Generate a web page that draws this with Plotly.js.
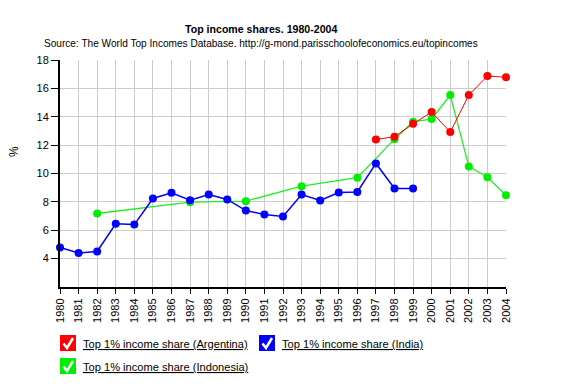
<!DOCTYPE html>
<html>
<head>
<meta charset="utf-8">
<script src="https://cdn.plot.ly/plotly-3.0.1.min.js"></script>
<style>html,body{margin:0;padding:0;background:#fff;}#chart{width:565px;height:390px;}</style>
</head>
<body>
<div id="chart"></div>
<script>
var argYears = [1997, 1998, 1999, 2000, 2001, 2002, 2003, 2004];
var argValues = [12.40, 12.59, 13.50, 14.33, 12.92, 15.53, 16.87, 16.78];

var indYears = [1980, 1981, 1982, 1983, 1984, 1985, 1986, 1987, 1988, 1989, 1990, 1991, 1992, 1993, 1994, 1995, 1996, 1997, 1998, 1999];
var indValues = [4.78, 4.40, 4.50, 6.45, 6.40, 8.24, 8.64, 8.12, 8.52, 8.17, 7.39, 7.11, 6.97, 8.52, 8.10, 8.66, 8.70, 10.71, 8.94, 8.94];

var idnYears = [1982, 1987, 1990, 1993, 1996, 1998, 1999, 2000, 2001, 2002, 2003, 2004];
var idnValues = [7.18, 7.98, 8.05, 9.11, 9.70, 12.42, 13.65, 13.84, 15.53, 10.50, 9.74, 8.47];

var seriesNames = ['Top 1% income share (Argentina)', 'Top 1% income share (India)', 'Top 1% income share (Indonesia)'];
var seriesColors = ['#ff0000', '#0000ff', '#00ee00'];

var yTicks = [4, 6, 8, 10, 12, 14, 16, 18];
var xTicks = [];
for (var yr = 1980; yr <= 2004; yr++) xTicks.push(yr);

var W = 565, H = 390;
var M = {l: 60, r: 59, t: 60, b: 103};
var pw = W - M.l - M.r, ph = H - M.t - M.b;
function px(x) { return (x - M.l) / pw; }
function py(y) { return (H - M.b - y) / ph; }

function tr(x, y, name, color, lw) {
  return {
    x: x, y: y, name: name, type: 'scatter', mode: 'lines+markers',
    line: {color: color, width: lw},
    marker: {color: color, size: 8},
    cliponaxis: false, showlegend: false
  };
}

var data = [
  tr(idnYears, idnValues, seriesNames[2], '#22ee22', 1.3),
  tr(indYears, indValues, seriesNames[1], seriesColors[1], 1.5),
  tr(argYears, argValues, seriesNames[0], seriesColors[0], 1)
];
data[0].marker.color = seriesColors[2];

var shapes = [];
var annotations = [];

annotations.push({xref: 'paper', yref: 'paper', x: px(261), y: py(29), text: '<b>Top income shares. 1980-2004</b>',
  showarrow: false, font: {family: 'Liberation Sans, Arial, sans-serif', size: 10.6, color: '#000'}, xanchor: 'center', yanchor: 'middle'});
annotations.push({xref: 'paper', yref: 'paper', x: px(261), y: py(44), text: 'Source: The World Top Incomes Database. http://g-mond.parisschoolofeconomics.eu/topincomes',
  showarrow: false, font: {family: 'Liberation Sans, Arial, sans-serif', size: 10.1, color: '#000'}, xanchor: 'center', yanchor: 'middle'});
annotations.push({xref: 'paper', yref: 'paper', x: px(14), y: py(152), text: '%', textangle: -90,
  showarrow: false, font: {family: 'Liberation Sans, Arial, sans-serif', size: 12, color: '#000'}, xanchor: 'center', yanchor: 'middle'});

var legendPos = [[60, 335], [259, 335], [60, 358]];
for (var i = 0; i < 3; i++) {
  var bx = legendPos[i][0], by = legendPos[i][1];
  shapes.push({type: 'rect', xref: 'paper', yref: 'paper', x0: px(bx), x1: px(bx + 16), y0: py(by), y1: py(by + 16),
    fillcolor: seriesColors[i], line: {width: 0}});
  var path = 'M ' + px(bx + 3.5) + ',' + py(by + 8.5) + ' L ' + px(bx + 7) + ',' + py(by + 13) + ' L ' + px(bx + 13) + ',' + py(by + 3);
  shapes.push({type: 'path', xref: 'paper', yref: 'paper', path: path, line: {color: '#ffffff', width: 2.5}});
  annotations.push({xref: 'paper', yref: 'paper', x: px(bx + 21), y: py(by + 8.5),
    text: '<span style="text-decoration:underline">' + seriesNames[i] + '</span>',
    showarrow: false, xanchor: 'left', yanchor: 'middle',
    font: {family: 'Liberation Sans, Arial, sans-serif', size: 11.1, color: '#000'}});
}

var layout = {
  width: W, height: H,
  margin: {l: M.l, r: M.r, t: M.t, b: M.b, pad: 0},
  paper_bgcolor: '#fff', plot_bgcolor: '#fff',
  font: {family: 'Liberation Sans, Arial, sans-serif', size: 11, color: '#000'},
  showlegend: false,
  xaxis: {
    range: [1980, 2004], tickvals: xTicks, ticktext: xTicks.map(String), tickangle: -90,
    showgrid: true, gridcolor: '#cccccc', gridwidth: 1,
    showline: true, linecolor: '#000', linewidth: 2,
    ticks: 'outside', ticklen: 5, tickcolor: '#000', tickwidth: 1,
    zeroline: false, fixedrange: true,
    tickfont: {size: 11, color: '#000'}
  },
  yaxis: {
    range: [2, 18], tickvals: yTicks, ticktext: yTicks.map(String),
    showgrid: true, gridcolor: '#cccccc', gridwidth: 1,
    showline: true, linecolor: '#000', linewidth: 2,
    ticks: 'outside', ticklen: 7, tickcolor: '#000', tickwidth: 1,
    zeroline: false, fixedrange: true,
    tickfont: {size: 11, color: '#000'}
  },
  shapes: shapes,
  annotations: annotations
};

Plotly.newPlot('chart', data, layout, {displayModeBar: false, staticPlot: true});
</script>
</body>
</html>
